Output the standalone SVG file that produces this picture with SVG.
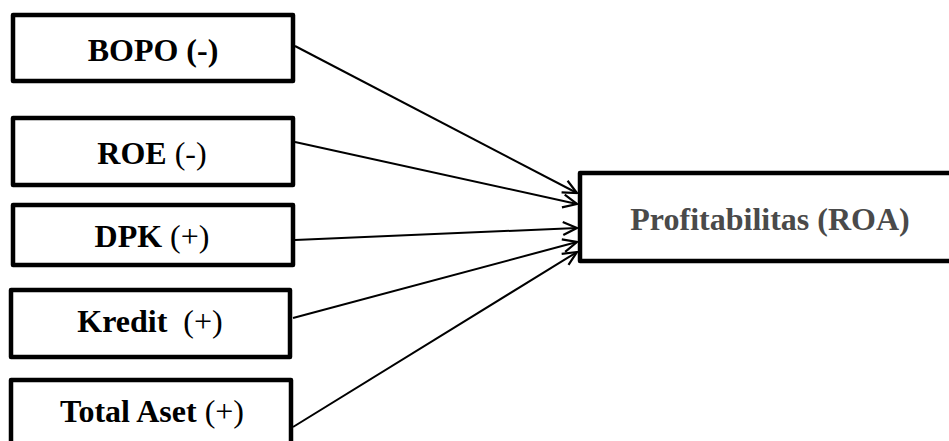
<svg xmlns="http://www.w3.org/2000/svg" width="949" height="441" viewBox="0 0 949 441">
  <style>
    .box { fill: #ffffff; stroke: #000000; stroke-width: 4.5; stroke-linejoin: round; }
    .lbl { font-family: "Liberation Serif", "Times New Roman", serif; font-weight: bold; font-size: 32px; fill: #000000; text-anchor: middle; white-space: pre; }
    .sign { font-weight: normal; }
    .out { font-size: 32px; fill: #4a4a4a; }
    .edge { stroke: #000000; stroke-width: 2; fill: none; marker-end: url(#arrow); }
  </style>
  <defs>
    <marker id="arrow" viewBox="0 0 16 16" refX="15" refY="8" markerWidth="16" markerHeight="16" markerUnits="userSpaceOnUse" orient="auto">
      <path d="M1,1.5 L15,8 L1,14.5" fill="none" stroke="#000000" stroke-width="2.2"/>
    </marker>
  </defs>

  <rect width="949" height="441" fill="#ffffff"/>

  <g id="connectors">
    <line class="edge" x1="295" y1="46" x2="577" y2="193"/>
    <line class="edge" x1="295" y1="142" x2="577" y2="204"/>
    <line class="edge" x1="295" y1="240" x2="577" y2="228"/>
    <line class="edge" x1="293" y1="318" x2="577" y2="242"/>
    <line class="edge" x1="293" y1="427" x2="577" y2="252"/>
  </g>

  <g id="bopo">
    <rect class="box" x="13" y="15" width="280" height="66"/>
    <text class="lbl" x="153" y="61">BOPO (-)</text>
  </g>
  <g id="roe">
    <rect class="box" x="13" y="118" width="280" height="67"/>
    <text class="lbl" x="152" y="164">ROE <tspan class="sign">(-)</tspan></text>
  </g>
  <g id="dpk">
    <rect class="box" x="13" y="205" width="280" height="60"/>
    <text class="lbl" x="152" y="247">DPK <tspan class="sign">(+)</tspan></text>
  </g>
  <g id="kredit">
    <rect class="box" x="11" y="290" width="279" height="67"/>
    <text class="lbl" x="150" y="332">Kredit  <tspan class="sign">(+)</tspan></text>
  </g>
  <g id="total-aset">
    <rect class="box" x="11" y="380" width="280" height="80"/>
    <text class="lbl" x="152" y="422">Total Aset <tspan class="sign">(+)</tspan></text>
  </g>
  <g id="roa">
    <rect class="box" x="580" y="173" width="380" height="88"/>
    <text class="lbl out" x="770" y="230">Profitabilitas (ROA)</text>
  </g>
</svg>
